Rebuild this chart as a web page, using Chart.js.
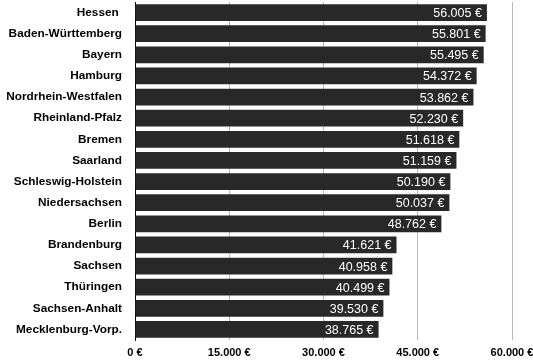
<!DOCTYPE html>
<html>
<head>
<meta charset="utf-8">
<script src="https://cdn.jsdelivr.net/npm/chart.js@4/dist/chart.umd.min.js"></script>
<style>
  html, body { margin: 0; padding: 0; background: #fff; }
  #wrap { width: 533px; height: 361px; position: relative; }
</style>
</head>
<body>
<div id="wrap"><canvas id="c"></canvas></div>
<script>
// Bundesländer und Werte (Euro)
const laender = [
    'Hessen ', 'Baden-Württemberg', 'Bayern', 'Hamburg', 'Nordrhein-Westfalen',
    'Rheinland-Pfalz', 'Bremen', 'Saarland', 'Schleswig-Holstein', 'Niedersachsen',
    'Berlin', 'Brandenburg', 'Sachsen', 'Thüringen', 'Sachsen-Anhalt', 'Mecklenburg-Vorp.'
];
const werte = [
    56005, 55801, 55495, 54372, 53862,
    52230, 51618, 51159, 50190, 50037,
    48762, 41621, 40958, 40499, 39530, 38765
];
const achseMax = 60000;
const achseSchritt = 15000;

const FONT = '"Liberation Sans", Arial, Helvetica, sans-serif';

// 56005 -> "56.005 €"
function euro(v) {
    return String(Math.round(v)).replace(/\B(?=(\d{3})+(?!\d))/g, '.') + ' €';
}

// Werte weiß ans Balkenende schreiben
const wertLabels = {
    id: 'wertLabels',
    afterDatasetsDraw(chart) {
        const ctx = chart.ctx;
        const meta = chart.getDatasetMeta(0);
        ctx.save();
        ctx.fillStyle = '#ffffff';
        ctx.font = '12.5px ' + FONT;
        ctx.textAlign = 'right';
        ctx.textBaseline = 'middle';
        meta.data.forEach((bar, i) => {
            ctx.fillText(euro(werte[i]), bar.x - 5, bar.y + 1);
        });
        ctx.restore();
    }
};

new Chart(document.getElementById('c'), {
    type: 'bar',
    data: {
        labels: laender,
        datasets: [{
            data: werte,
            backgroundColor: '#282828',
            borderWidth: 0,
            categoryPercentage: 1,
            barPercentage: 0.79
        }]
    },
    options: {
        indexAxis: 'y',
        responsive: true,
        maintainAspectRatio: false,
        animation: false,
        layout: { padding: { top: 2, right: 0, left: 0, bottom: 0 } },
        plugins: {
            legend: { display: false },
            tooltip: { enabled: false }
        },
        scales: {
            x: {
                min: 0,
                max: achseMax,
                ticks: {
                    stepSize: achseSchritt,
                    color: '#000',
                    font: { family: FONT, size: 11, weight: 'bold' },
                    padding: 6,
                    maxRotation: 0,
                    callback: v => euro(v)
                },
                grid: { color: '#b8b8b8', lineWidth: 1, drawTicks: false },
                border: { display: false },
                // feste Maße, damit die Plotfläche bei 135..512 liegt
                afterFit(scale) {
                    scale.height = 21;
                    scale.paddingLeft = 0;
                    scale.paddingRight = 21;
                    scale.paddingTop = 0;
                    scale.paddingBottom = 0;
                }
            },
            y: {
                ticks: {
                    color: '#000',
                    font: { family: FONT, size: 11.8, weight: 'bold' },
                    padding: 13
                },
                grid: { display: false, drawTicks: false },
                border: { display: true, color: '#000', width: 1 },
                afterFit(scale) {
                    scale.width = 135;
                    scale.paddingTop = 0;
                    scale.paddingBottom = 0;
                }
            }
        }
    },
    plugins: [wertLabels]
});
</script>
</body>
</html>
